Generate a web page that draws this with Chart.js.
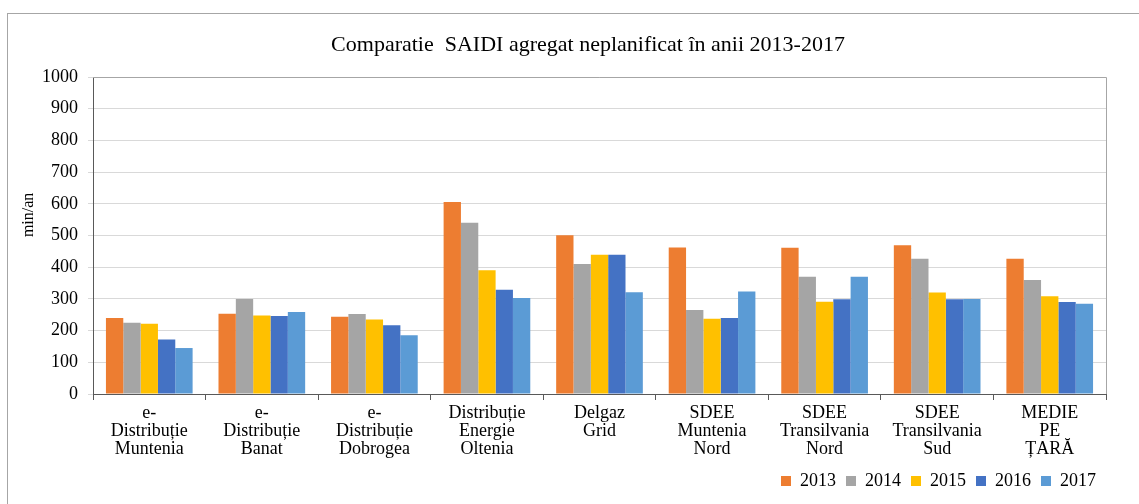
<!DOCTYPE html>
<html>
<head>
<meta charset="utf-8">
<script src="https://cdn.jsdelivr.net/npm/chart.js@4.4.0/dist/chart.umd.min.js"></script>
<style>
  html, body { margin: 0; padding: 0; background: #fff; overflow: hidden; }
  #frame {
    position: absolute; left: 7px; top: 13px;
    width: 1140px; height: 500px;
    border-left: 1px solid #a6a6a6; border-top: 1px solid #a6a6a6;
  }
  #wrap { position: absolute; left: 0; top: 0; width: 1131px; height: 490px; }
</style>
</head>
<body>
<div id="frame"><div id="wrap"><canvas id="myChart"></canvas></div></div>
<script>
const categories = [
  ['e-', 'Distribuție', 'Muntenia'],
  ['e-', 'Distribuție', 'Banat'],
  ['e-', 'Distribuție', 'Dobrogea'],
  ['Distribuție', 'Energie', 'Oltenia'],
  ['Delgaz', 'Grid'],
  ['SDEE', 'Muntenia', 'Nord'],
  ['SDEE', 'Transilvania', 'Nord'],
  ['SDEE', 'Transilvania', 'Sud'],
  ['MEDIE', 'PE', 'ȚARĂ']
];
const years = ['2013', '2014', '2015', '2016', '2017'];
const v2013 = [240, 253, 244, 606, 501, 462, 461, 469, 427];
const v2014 = [225, 300, 252, 540, 410, 265, 370, 427, 360];
const v2015 = [222, 248, 235, 390, 439, 237, 291, 320, 308];
const v2016 = [172, 246, 217, 329, 439, 240, 299, 299, 290];
const v2017 = [145, 259, 185, 303, 321, 323, 370, 300, 285];
const colors = ['#ED7D31', '#A5A5A5', '#FFC000', '#4472C4', '#5B9BD5'];
const chartTitle = 'Comparatie  SAIDI agregat neplanificat în anii 2013-2017';
const yTitle = 'min/an';

const serif = "'Liberation Serif', 'DejaVu Serif', serif";

// plot outline, chart title (sits right of centre) and y title (a bit above centre)
const extras = {
  id: 'extras',
  afterDraw(chart) {
    const { ctx, chartArea: a } = chart;
    ctx.save();
    ctx.strokeStyle = '#a6a6a6';
    ctx.lineWidth = 1;
    ctx.beginPath();
    ctx.moveTo(a.left, a.top + 0.5);
    ctx.lineTo(a.right + 0.5, a.top + 0.5);
    ctx.lineTo(a.right + 0.5, a.bottom);
    ctx.stroke();

    ctx.fillStyle = '#000';
    ctx.textAlign = 'center';
    ctx.textBaseline = 'middle';
    ctx.font = '22px ' + serif;
    ctx.fillText(chartTitle, 580, 31);

    ctx.font = '16px ' + serif;
    ctx.translate(a.left - 64, a.top + (a.bottom - a.top) * 0.435);
    ctx.rotate(-Math.PI / 2);
    ctx.fillText(yTitle, 0, 0);
    ctx.restore();
  }
};

const series = [v2013, v2014, v2015, v2016, v2017];
new Chart(document.getElementById('myChart'), {
  type: 'bar',
  data: {
    labels: categories,
    datasets: series.map((d, i) => ({
      label: years[i],
      data: d,
      backgroundColor: colors[i],
      categoryPercentage: 0.77,
      barPercentage: 1.0
    }))
  },
  options: {
    responsive: true,
    maintainAspectRatio: false,
    animation: false,
    layout: { padding: { left: 12, right: 33, top: 63, bottom: 4 } },
    plugins: {
      title: { display: false },
      legend: {
        position: 'bottom',
        align: 'end',
        labels: {
          color: '#000',
          font: { family: serif, size: 18 },
          boxWidth: 10,
          boxHeight: 10,
          padding: 10
        }
      },
      tooltip: { enabled: false }
    },
    scales: {
      x: {
        grid: {
          display: true,
          drawOnChartArea: false,
          tickLength: 6,
          color: '#595959'
        },
        border: { color: '#595959', width: 1 },
        ticks: {
          color: '#000',
          font: { family: serif, size: 18, lineHeight: 1.0 },
          maxRotation: 0,
          padding: 4
        }
      },
      y: {
        min: 0,
        max: 1000,
        afterFit(scale) { scale.width = 73; },
        grid: { color: '#d9d9d9', tickLength: 5 },
        border: { color: '#595959', width: 1 },
        ticks: {
          stepSize: 100,
          color: '#000',
          font: { family: serif, size: 18 },
          padding: 10,
          callback: (v) => String(v)
        }
      }
    }
  },
  plugins: [extras]
});
</script>
</body>
</html>
